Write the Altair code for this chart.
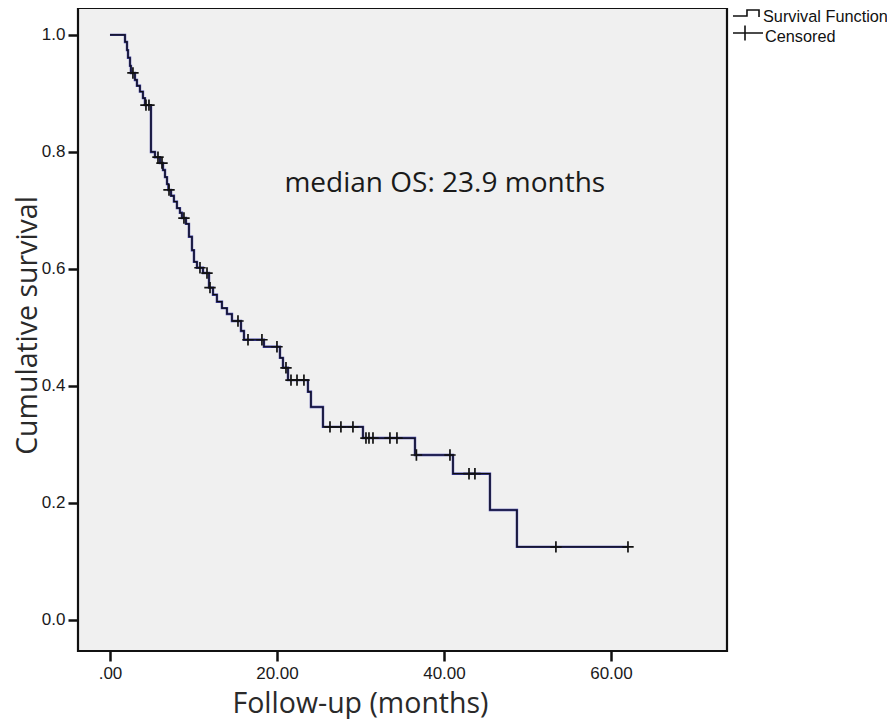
import altair as alt
import pandas as pd

# Kaplan-Meier step points (time in months, survival after event)
event_times = [0, 1.80, 2.04, 2.16, 2.40, 2.51, 2.99, 3.23, 3.59, 3.95, 4.19,
               4.91, 5.39, 5.99, 6.35, 6.59, 6.83, 7.00, 7.31, 7.66, 8.02,
               8.38, 8.62, 9.10, 9.46, 9.82, 10.06, 10.42, 11.14, 11.86, 12.34,
               12.81, 13.41, 14.01, 14.61, 15.69, 16.05, 18.44, 20.36, 20.72, 21.32,
               23.71, 24.07, 25.51, 30.30, 36.53, 41.08, 45.51, 48.74]
survival = [1.0, 0.988, 0.974, 0.961, 0.947, 0.935, 0.923, 0.913, 0.903, 0.892, 0.880,
            0.800, 0.791, 0.781, 0.769, 0.757, 0.745, 0.735, 0.725, 0.715, 0.704,
            0.696, 0.687, 0.677, 0.655, 0.632, 0.612, 0.602, 0.593, 0.568, 0.556,
            0.544, 0.533, 0.523, 0.511, 0.494, 0.479, 0.467, 0.448, 0.431, 0.410,
            0.390, 0.364, 0.330, 0.311, 0.282, 0.250, 0.188, 0.125]
censor_times = [2.75, 4.31, 4.67, 5.75, 6.23, 7.07, 8.86, 10.78, 11.62, 11.98,
                15.33, 16.53, 18.20, 20.00, 21.08, 21.68, 22.40, 23.23, 26.35, 27.66,
                29.10, 30.66, 31.02, 31.50, 33.53, 34.37, 36.70, 40.72, 43.00, 43.71,
                53.41, 62.04]
x_ticks = [0, 20, 40, 60]
y_ticks = [0.0, 0.2, 0.4, 0.6, 0.8, 1.0]
annotation = "median OS: 23.9 months"
legend_labels = ["Survival Function", "Censored"]


def surv_at(t):
    s = 1.0
    for et, sv in zip(event_times, survival):
        if et <= t:
            s = sv
    return s


censor_surv = [surv_at(t) for t in censor_times]
end_time = max(censor_times)

line_df = pd.DataFrame({
    "t": event_times + [end_time],
    "s": survival + [surv_at(end_time)],
})
cens_df = pd.DataFrame({"t": censor_times, "s": censor_surv})

xscale = alt.Scale(domain=[-3.83, 73.9], nice=False, zero=False)
yscale = alt.Scale(domain=[-0.053, 1.046], nice=False, zero=False)

x_axis = alt.Axis(
    values=x_ticks, title="Follow-up (months)", grid=False, domain=False,
    labelExpr="datum.value == 0 ? '.00' : format(datum.value, '.2f')",
    tickSize=10, tickWidth=2.5, tickColor="#111", labelPadding=4,
    labelFont="Liberation Sans", labelFontSize=17, labelColor="#1a1a1a",
    titleFont="Open Sans", titleFontSize=28.5, titleFontWeight="normal",
    titleColor="#2a2a2a", titleX=282, titleY=52, titleBaseline="middle",
    titleAnchor="start", titleAlign="center",
)
y_axis = alt.Axis(
    values=y_ticks, title="Cumulative survival", grid=False, domain=False,
    format=".1f", tickSize=10, tickWidth=2.5, tickColor="#111", labelPadding=3,
    labelFont="Liberation Sans", labelFontSize=17, labelColor="#1a1a1a",
    titleFont="Open Sans", titleFontSize=28.5, titleFontWeight="normal",
    titleColor="#2a2a2a", titleX=-51, titleY=317, titleBaseline="middle",
    titleAngle=270, titleAlign="center", titleAnchor="start",
)

base = alt.Chart(line_df)
line_under = base.mark_line(interpolate="step-after", color="#3a3aa0", strokeWidth=2.4).encode(
    x=alt.X("t:Q", scale=xscale, axis=x_axis),
    y=alt.Y("s:Q", scale=yscale, axis=y_axis),
)
line_top = base.mark_line(interpolate="step-after", color="#0d0d0d", strokeWidth=1.2).encode(
    x=alt.X("t:Q", scale=xscale),
    y=alt.Y("s:Q", scale=yscale),
)

cross_path = "M-1,0L1,0M0,-1L0,1"
censors = alt.Chart(cens_df).mark_point(
    shape=cross_path, filled=False, stroke="#111111", strokeWidth=1.7, size=130, opacity=1
).encode(
    x=alt.X("t:Q", scale=xscale),
    y=alt.Y("s:Q", scale=yscale),
)

ann_df = pd.DataFrame({"label": [annotation], "t": [40.1], "s": [0.745]})
ann = alt.Chart(ann_df).mark_text(
    font="Open Sans", fontSize=28, color="#1a1a1a", align="center", baseline="middle"
).encode(
    x=alt.X("t:Q", scale=xscale),
    y=alt.Y("s:Q", scale=yscale),
    text="label:N",
)

# manual legend (outside plot area, upper right)
leg_df = pd.DataFrame({"k": [0]})
step_path = "M-0.93,0.21L0.07,0.21L0.07,-0.21L0.93,-0.21L0.93,0.29"
wide_cross = "M-1,0L1,0M-0.2,-0.5L-0.2,0.5"
leg_sym1 = alt.Chart(leg_df).mark_point(
    shape=step_path, filled=False, stroke="#111", strokeWidth=1.6, size=784, opacity=1
).encode(x=alt.value(668), y=alt.value(5))
leg_sym2 = alt.Chart(leg_df).mark_point(
    shape=wide_cross, filled=False, stroke="#111", strokeWidth=1.6, size=900, opacity=1
).encode(x=alt.value(670), y=alt.value(25))
leg_txt1 = alt.Chart(leg_df).mark_text(
    text=legend_labels[0], font="Liberation Sans", fontSize=16.3, color="#111",
    align="left", baseline="alphabetic"
).encode(x=alt.value(685), y=alt.value(14))
leg_txt2 = alt.Chart(leg_df).mark_text(
    text=legend_labels[1], font="Liberation Sans", fontSize=16.3, color="#111",
    align="left", baseline="alphabetic"
).encode(x=alt.value(687), y=alt.value(34))

chart = alt.layer(
    line_under, line_top, censors, ann, leg_sym1, leg_sym2, leg_txt1, leg_txt2
).properties(
    width=649, height=643,
    autosize=alt.AutoSizeParams(type="none"),
    padding={"left": 70, "top": 0, "right": 160, "bottom": 70},
    background="white",
).configure_view(
    fill="#f0f0f0", stroke="#111111", strokeWidth=2.2
)

chart.save("out.html", embed_options={"renderer": "svg", "actions": False})
